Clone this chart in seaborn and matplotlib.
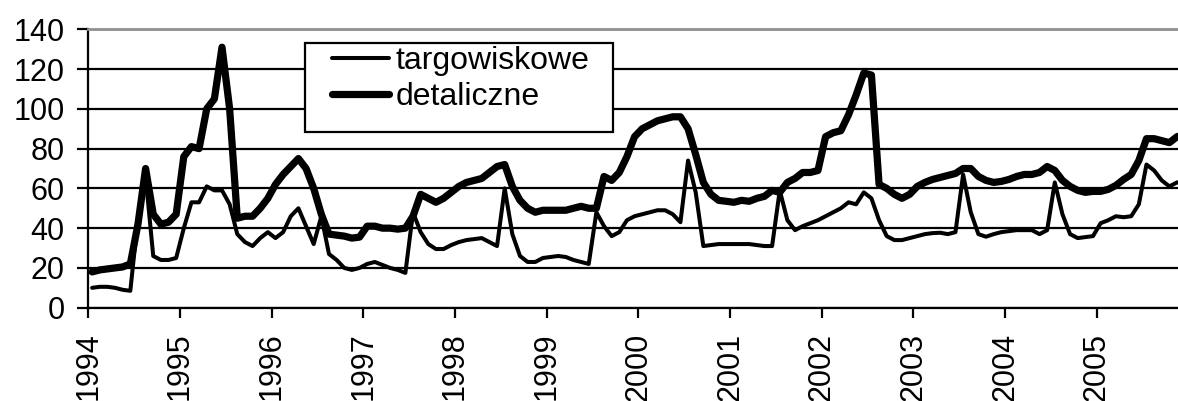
import matplotlib
matplotlib.use('Agg')
import matplotlib.pyplot as plt
from matplotlib.patches import Rectangle
import seaborn as sns
import pandas as pd
import numpy as np

# ceny miesieczne 1994-2005
lata = ['1994', '1995', '1996', '1997', '1998', '1999',
        '2000', '2001', '2002', '2003', '2004', '2005']

targowiskowe = [
    10, 10.5, 10.5, 10, 9, 8.5, 45, 66, 26, 24, 24, 25,
    40, 53, 53, 61, 59, 59, 52, 37, 33, 31, 35, 38,
    35, 38, 46, 50, 41, 32, 46, 27, 24, 20, 19, 20,
    22, 23, 21.5, 20, 19, 17.5, 48, 38, 32, 29.5, 29.5, 31.5,
    33, 34, 34.5, 35, 33, 31, 60, 37, 26, 23, 23, 25,
    25.5, 26, 25.5, 24, 23, 22, 48, 41, 36, 38, 44, 46,
    47, 48, 49, 49, 47, 43, 74, 58, 31, 31.5, 32, 32,
    32, 32, 32, 31.5, 31, 31, 59, 44, 39, 41, 42.5, 44,
    46, 48, 50, 53, 52, 58, 55, 44, 36, 34, 34, 35,
    36, 37, 37.5, 37.7, 37, 38, 67, 48, 37, 35.7, 37, 38,
    38.5, 39, 39, 39, 37, 39, 63, 47, 37, 35, 35.5, 36,
    42.5, 44, 46, 45.5, 46, 52, 72, 69, 64, 61, 63, 63,
]

detaliczne = [
    18, 19, 19.5, 20, 20.5, 22, 42, 70, 47, 42, 43, 47,
    76, 81, 80, 100, 105, 131, 100, 45, 46, 46, 50, 55,
    62, 67, 71, 75, 70, 60, 47, 37, 36.5, 36, 35, 35.5,
    41, 41, 40, 40, 39.5, 40, 46, 57, 55, 53, 55, 58,
    61, 63, 64, 65, 68, 71, 72, 61, 54, 50, 48, 49,
    49, 49, 49, 50, 51, 50, 50, 66, 64, 68, 76, 86,
    90, 92, 94, 95, 96, 96, 90, 77, 63, 57, 54, 53.5,
    53, 54, 53.5, 55, 56, 59, 58, 63, 65, 68, 68, 69,
    86, 88, 89, 97, 107, 118, 117, 62, 60, 57, 55, 57,
    61, 63, 64.5, 65.5, 66.5, 67.5, 70, 70, 66, 64, 63, 63.5,
    64.5, 66, 67, 67, 68, 71, 69, 64, 61, 59, 58, 58.5,
    58.5, 59.5, 61.5, 64.5, 67, 74, 85, 85, 84, 83, 86, 87,
]

df = pd.DataFrame({
    'miesiac': np.arange(len(targowiskowe)) + 0.5,
    'targowiskowe': targowiskowe,
    'detaliczne': detaliczne,
})

sns.set_style('white')
plt.rcParams['font.family'] = ['Liberation Sans', 'DejaVu Sans']

fig = plt.figure(figsize=(11.78, 4.01), dpi=100)
ax = fig.add_axes([88.3 / 1178, 93.3 / 401, 1100.2 / 1178, 278.4 / 401])

sns.lineplot(data=df, x='miesiac', y='targowiskowe', color='black', linewidth=2.9,
             label='targowiskowe', ax=ax, solid_joinstyle='round', solid_capstyle='round')
sns.lineplot(data=df, x='miesiac', y='detaliczne', color='black', linewidth=5.2,
             label='detaliczne', ax=ax, solid_joinstyle='round', solid_capstyle='round')

ax.set_xlim(0, 144)
ax.set_ylim(0, 140)
ax.set_yticks(range(0, 141, 20))
ax.set_xticks(np.arange(len(lata)) * 12)
ax.set_xticklabels(lata, rotation=90)
ax.set_xlabel('')
ax.set_ylabel('')

ax.set_axisbelow(True)
ax.yaxis.grid(True, color='black', linewidth=1.6)
ax.xaxis.grid(False)

for s in ['left', 'bottom']:
    ax.spines[s].set_color('black')
    ax.spines[s].set_linewidth(1.6)
ax.spines['top'].set_color('#909090')
ax.spines['top'].set_linewidth(2)
ax.spines['top'].set_zorder(3)
ax.spines['right'].set_visible(False)

ax.tick_params(axis='y', length=8, width=1.6, direction='out', pad=9,
               labelsize=22, left=True, colors='black')
ax.tick_params(axis='x', length=7, width=1.6, direction='out', pad=11,
               labelsize=22, bottom=True, colors='black')

# ramka legendy
ax.add_patch(Rectangle((0.197, 0.632), 0.2796, 0.3197, transform=ax.transAxes,
                       facecolor='white', edgecolor='black', linewidth=1.6, zorder=3))
leg = ax.legend(loc='upper left', bbox_to_anchor=(0.2212, 0.94), frameon=False,
                fontsize=23, handlelength=1.8, handletextpad=0.2, labelspacing=0.2,
                borderpad=0, borderaxespad=0)
leg.set_zorder(5)
for t in leg.get_texts():
    t.set_color('black')

fig.savefig('out.png', dpi=100)
